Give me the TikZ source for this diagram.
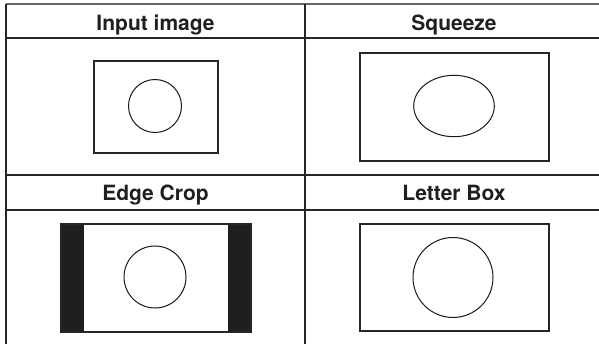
\documentclass[tikz,border=0pt]{standalone}
\usepackage{fontspec}
\setmainfont{TeX Gyre Heros}
\begin{document}
\begin{tikzpicture}[x=1pt,y=-1pt,
  grid/.style={line width=1.5pt,draw=black!85},
  topline/.style={line width=2pt,draw=black!60},
  frame/.style={line width=1.2pt,draw=black!85},
  outline/.style={line width=1pt,draw=black!90},
  bar/.style={fill=black!88,draw=none},
  head/.style={font=\bfseries\fontsize{21}{25}\selectfont,anchor=base,inner sep=0pt,text=black!88}]
\useasboundingbox (0,0) rectangle (599,344);
% table lines
\draw[topline] (6,4.5) -- (599,4.5);
\draw[grid] (6,4) -- (6,344);
\draw[grid] (305,4) -- (305,344);
\draw[grid] (6,38) -- (599,38);
\draw[grid] (6,175) -- (599,175);
\draw[grid] (6,210) -- (599,210);
% headers
\node[head] (h1) at (155.5,31) {Input image};
\node[head] (h2) at (454,31) {Squeeze};
\node[head] (h3) at (155.5,201) {Edge Crop};
\node[head] (h4) at (454,201) {Letter Box};
% input image
\draw[frame] (94,61) rectangle (218,153);
\draw[outline] (155,106) circle (26.5);
% squeeze
\draw[frame] (360,53) rectangle (549,161);
\draw[outline] (454,106) ellipse (40.3 and 30.7);
% edge crop
\fill[bar] (61,224) rectangle (84,332);
\fill[bar] (228,224) rectangle (251,332);
\draw[frame] (61,224) rectangle (251,332);
\draw[outline] (155,277) circle (31);
% letter box
\draw[frame] (360,224) rectangle (549,331);
\draw[outline] (453,277.5) circle (40);
\end{tikzpicture}
\end{document}
